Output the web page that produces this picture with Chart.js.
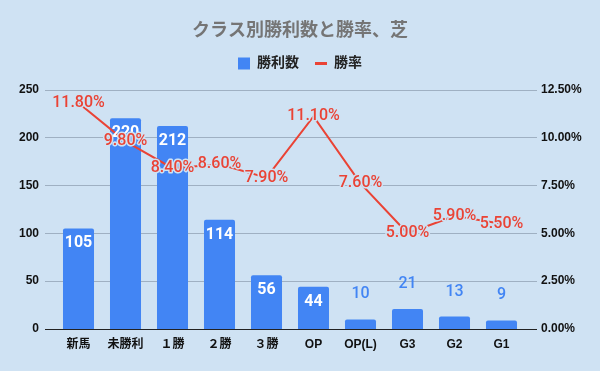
<!DOCTYPE html>
<html>
<head>
<meta charset="utf-8">
<script src="https://cdn.jsdelivr.net/npm/chart.js@4"></script>
<style>
  html, body { margin: 0; padding: 0; background: #cfe2f3; }
  #wrap { width: 600px; height: 371px; }
</style>
</head>
<body>
<div id="wrap"><canvas id="grafico" width="600" height="371"></canvas></div>
<script>
// データ
const categorias = ['新馬', '未勝利', '１勝', '２勝', '３勝', 'OP', 'OP(L)', 'G3', 'G2', 'G1'];
const vitorias = [105, 220, 212, 114, 56, 44, 10, 21, 13, 9];
const taxaVitoria = [11.8, 9.8, 8.4, 8.6, 7.9, 11.1, 7.6, 5.0, 5.9, 5.5];
const eixoEsqMax = 250, eixoEsqPasso = 50;
const eixoDirMax = 12.5, eixoDirPasso = 2.5;

const corFundo = '#cfe2f3';
const corBarra = '#4285f4';
const corLinha = '#ea4335';
const corGrade = '#9fb0c2';
const fonteEixo = 'Arial, "Liberation Sans", "Noto Sans CJK JP", sans-serif';
const fonteRotulo = 'Roboto, "Noto Sans", sans-serif';

const fundo = {
    id: 'fundo',
    beforeDraw(chart) {
        const c = chart.ctx;
        c.save();
        c.globalCompositeOperation = 'destination-over';
        c.fillStyle = corFundo;
        c.fillRect(0, 0, chart.width, chart.height);
        c.restore();
    }
};

// linhas de grade (passam um pouco das bordas da área do gráfico)
const grade = {
    id: 'grade',
    beforeDatasetsDraw(chart) {
        const c = chart.ctx;
        const area = chart.chartArea;
        const y = chart.scales.y;
        c.save();
        c.lineWidth = 1;
        y.ticks.forEach(t => {
            const py = Math.round(y.getPixelForValue(t.value)) + 0.5;
            c.strokeStyle = t.value === 0 ? '#222222' : corGrade;
            c.beginPath();
            c.moveTo(area.left - 10, py);
            c.lineTo(area.right + 12, py);
            c.stroke();
        });
        c.restore();
    }
};

// legenda com um espaço extra embaixo
const espacoLegenda = {
    id: 'espacoLegenda',
    afterInit(chart) {
        const lg = chart.legend;
        const fitOrig = lg.fit.bind(lg);
        lg.fit = function () {
            fitOrig();
            this.height += 9;
        };
    }
};

// rótulos de dados (barras primeiro, depois a linha)
const rotulos = {
    id: 'rotulos',
    afterDatasetsDraw(chart) {
        const c = chart.ctx;
        c.save();
        c.textAlign = 'center';
        c.textBaseline = 'middle';
        const barras = chart.getDatasetMeta(0).data;
        barras.forEach((b, i) => {
            const alt = b.base - b.y;
            if (alt > 30) {
                c.font = 'bold 16px ' + fonteRotulo;
                c.fillStyle = '#ffffff';
                c.fillText(vitorias[i], b.x, b.y + 15);
            } else {
                c.font = '500 16px ' + fonteRotulo;
                c.fillStyle = corBarra;
                c.fillText(vitorias[i], b.x, b.y - 25);
            }
        });
        const pontos = chart.getDatasetMeta(1).data;
        c.font = '500 16px ' + fonteRotulo;
        c.lineJoin = 'round';
        pontos.forEach((p, i) => {
            const txt = taxaVitoria[i].toFixed(2) + '%';
            c.strokeStyle = corFundo;
            c.lineWidth = 3;
            c.strokeText(txt, p.x, p.y);
            c.fillStyle = corLinha;
            c.fillText(txt, p.x, p.y);
        });
        c.restore();
    }
};

new Chart(document.getElementById('grafico'), {
    data: {
        labels: categorias,
        datasets: [{
            type: 'bar',
            label: '勝利数',
            data: vitorias,
            backgroundColor: corBarra,
            borderRadius: 2,
            barPercentage: 0.66,
            categoryPercentage: 1,
            pointStyle: 'rect',
            yAxisID: 'y',
            order: 1
        }, {
            type: 'line',
            label: '勝率',
            data: taxaVitoria,
            borderColor: corLinha,
            backgroundColor: corLinha,
            borderWidth: 2,
            pointRadius: 0,
            pointStyle: 'line',
            tension: 0,
            yAxisID: 'y1',
            order: 0
        }]
    },
    options: {
        responsive: false,
        animation: false,
        devicePixelRatio: 1,
        layout: { padding: 0 },
        plugins: {
            title: {
                display: true,
                text: 'クラス別勝利数と勝率、芝',
                color: '#757575',
                font: { family: fonteEixo, size: 18, weight: 'bold' },
                padding: { top: 20, bottom: -1 }
            },
            legend: {
                labels: {
                    usePointStyle: true,
                    boxHeight: 12,
                    pointStyleWidth: 12,
                    color: '#222222',
                    font: { family: fonteEixo, size: 14, weight: 'bold' },
                    padding: 16,
                    sort: (a, b) => a.datasetIndex - b.datasetIndex,
                    generateLabels: chart => {
                        const itens = Chart.defaults.plugins.legend.labels.generateLabels(chart);
                        itens.forEach(it => {
                            if (it.pointStyle === 'line') it.lineWidth = 3;
                        });
                        return itens;
                    }
                }
            },
            tooltip: { enabled: false }
        },
        scales: {
            x: {
                grid: { display: false, drawTicks: false },
                border: { display: false },
                ticks: {
                    color: '#111111',
                    font: { family: fonteEixo, size: 12, weight: 'bold' },
                    padding: 8,
                    maxRotation: 0,
                    autoSkip: false
                },
                afterFit: s => { s.height = 42; }
            },
            y: {
                position: 'left',
                min: 0,
                max: eixoEsqMax,
                border: { display: false },
                grid: { display: false, drawTicks: false },
                ticks: {
                    stepSize: eixoEsqPasso,
                    color: '#111111',
                    font: { family: fonteEixo, size: 12, weight: 'bold' },
                    padding: 16
                },
                afterFit: s => { s.width = 55; }
            },
            y1: {
                position: 'right',
                min: 0,
                max: eixoDirMax,
                border: { display: false },
                grid: { display: false, drawTicks: false },
                ticks: {
                    stepSize: eixoDirPasso,
                    color: '#111111',
                    font: { family: fonteEixo, size: 12, weight: 'bold' },
                    padding: 16,
                    callback: v => v.toFixed(2) + '%'
                },
                afterFit: s => { s.width = 75; }
            }
        }
    },
    plugins: [fundo, grade, espacoLegenda, rotulos]
});
</script>
</body>
</html>
